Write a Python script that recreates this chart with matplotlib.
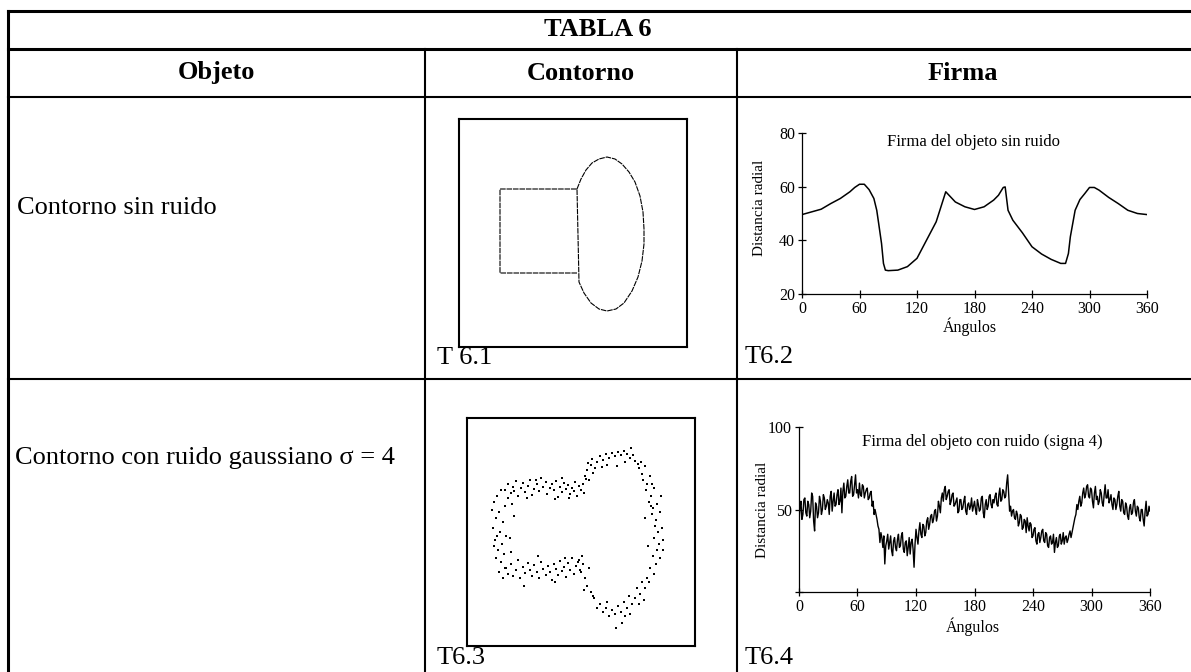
import matplotlib
matplotlib.use("Agg")
import matplotlib.pyplot as plt

W, H = 1191, 672
SERIF = ["Liberation Serif", "DejaVu Serif"]

# ---------------- data ----------------
table_title = "TABLA 6"
col_headers = ["Objeto", "Contorno", "Firma"]
row_labels = ["Contorno sin ruido", "Contorno con ruido gaussiano σ = 4"]
fig_labels = ["T 6.1", "T6.2", "T6.3", "T6.4"]

# clean signature (angle in degrees, radial distance)
angles_clean = [0, 10, 20, 30, 40, 50, 55, 60, 65, 70, 75, 78, 80, 83, 85, 87, 90,
                100, 110, 120, 130, 140, 145, 150, 155, 160, 170, 180, 190, 200,
                205, 210, 212, 215, 220, 230, 240, 250, 260, 270, 275, 278, 280,
                285, 290, 295, 300, 305, 310, 320, 330, 340, 350, 360]
dist_clean = [49.6, 50.6, 51.6, 53.7, 55.6, 58.1, 59.7, 60.9, 60.9, 58.9, 55.6, 51.2,
              46.3, 38.8, 31.4, 28.9, 28.7, 28.9, 30.2, 33.3, 40.1, 46.9, 52.5, 58.1,
              56.2, 54.3, 52.5, 51.5, 52.5, 55.0, 56.8, 59.7, 59.9, 51.2, 47.5, 42.8,
              37.6, 34.9, 32.9, 31.4, 31.4, 35.1, 41.3, 51.2, 55.2, 57.4, 59.7, 59.7,
              58.7, 56.0, 53.7, 51.2, 50.0, 49.6]

# noisy signature, one value per degree (0..360)
angles_noisy = list(range(0, 361))
dist_noisy = [
    42, 51, 55, 44, 47, 56, 57, 48, 46, 55, 53, 45, 49, 60, 58, 43, 37, 54, 52, 45,
    48, 58, 55, 47, 50, 59, 57, 50, 52, 56, 54, 47, 58, 61, 49, 55, 60, 52, 53, 59,
    62, 53, 55, 63, 48, 61, 66, 57, 58, 64, 68, 60, 60, 67, 70, 58, 59, 65, 71, 60,
    62, 57, 66, 59, 58, 65, 64, 57, 60, 62, 63, 56, 57, 60, 61, 52, 55, 47, 50, 47,
    44, 40, 38, 30, 36, 33, 27, 34, 17, 28, 31, 35, 26, 30, 34, 25, 22, 31, 33, 27,
    25, 32, 35, 27, 28, 34, 36, 26, 24, 30, 31, 22, 27, 33, 23, 30, 32, 26, 15, 29,
    38, 33, 29, 37, 42, 35, 33, 41, 40, 34, 36, 43, 45, 38, 41, 46, 47, 42, 44, 49,
    50, 43, 46, 55, 52, 48, 57, 60, 55, 62, 64, 56, 58, 61, 62, 53, 55, 59, 60, 52,
    53, 55, 57, 48, 49, 56, 56, 50, 51, 55, 58, 49, 47, 53, 54, 50, 52, 57, 49, 52,
    55, 50, 47, 56, 53, 49, 50, 57, 58, 48, 45, 53, 56, 50, 52, 58, 59, 53, 51, 56,
    54, 58, 60, 53, 52, 59, 63, 55, 56, 62, 61, 57, 58, 66, 71, 60, 49, 52, 46, 49,
    50, 45, 44, 49, 47, 40, 42, 47, 46, 38, 39, 44, 43, 36, 45, 40, 37, 42, 41, 33,
    34, 38, 39, 31, 29, 35, 36, 30, 33, 37, 38, 31, 30, 36, 35, 28, 27, 33, 34, 29,
    30, 35, 24, 30, 33, 27, 28, 34, 35, 29, 31, 36, 29, 33, 34, 30, 32, 35, 37, 33,
    36, 39, 42, 45, 47, 53, 50, 55, 58, 52, 54, 60, 63, 57, 59, 64, 65, 58, 57, 63,
    62, 55, 51, 60, 64, 56, 58, 53, 55, 62, 60, 54, 52, 59, 65, 57, 57, 62, 54, 56,
    59, 53, 50, 57, 56, 50, 53, 58, 61, 52, 49, 56, 55, 48, 47, 54, 52, 46, 44, 51,
    53, 47, 48, 54, 56, 49, 46, 52, 51, 45, 43, 50, 50, 44, 40, 49, 55, 46, 47, 52,
    49]

# clean contour (box pixel coords, y downward)
contour_x = [118, 41, 41, 118, 120, 125, 132, 140, 148, 157, 165, 173, 179, 183, 185,
             185, 184, 181, 176, 170, 163, 156, 148, 140, 133, 127, 122, 118]
contour_y = [154, 154, 70, 70, 163, 174, 184, 190, 192, 190, 184, 172, 158, 142, 125,
             110, 93, 77, 63, 53, 45, 40, 38, 40, 44, 51, 60, 70]

# noisy contour points (box pixel coords, y downward)
noisy_pts = [
    (38,72),(41,66),(44,75),(46,69),(49,63),(51,78),(54,70),(56,65),(58,74),(61,68),
    (63,62),(65,77),(67,71),(70,66),(72,73),(74,60),(76,69),(79,64),(80,76),(83,70),
    (85,66),(87,72),(89,63),(91,79),(93,69),(95,74),(97,65),(99,71),(101,67),(103,76),
    (105,70),(107,73),(108,64),(110,78),(112,68),(114,72),(116,66),(117,75),(119,61),
    (60,80),(88,81),(102,80),(47,73),(69,62),(95,60),
    (118,58),(120,52),(122,62),(124,47),(126,55),(121,45),(128,50),(125,41),
    (130,44),(133,38),(136,42),(139,36),(142,40),(145,35),(148,38),(151,34),(154,37),
    (157,33),(160,36),(163,40),(166,37),(168,43),(171,46),(150,48),(140,47),(158,44),
    (164,30),(135,49),
    (172,50),(175,56),(178,48),(176,62),(180,66),(183,58),(179,72),(184,78),(187,70),
    (182,84),(186,90),(190,86),(185,96),(189,102),(193,94),(188,108),(191,114),
    (195,110),(187,120),(192,126),(196,122),(190,132),(186,138),(193,140),(189,146),
    (183,150),(187,156),(180,160),(184,88),(178,100),(194,78),(181,128),(196,132),
    (174,44),(185,66),
    (182,164),(178,170),(175,164),(173,176),(170,170),(168,180),(165,186),(162,178),
    (160,190),(157,184),(154,194),(151,188),(148,196),(145,192),(142,198),(139,190),
    (136,194),(133,186),(130,190),(127,180),(172,186),(155,205),(140,184),(163,196),
    (149,210),(177,182),(158,198),
    (120,168),(118,160),(124,174),(114,154),(122,150),(116,146),(112,142),(126,178),
    (117,172),
    (38,150),(41,156),(44,146),(46,158),(49,152),(51,142),(53,160),(56,149),(58,155),
    (61,145),(63,152),(65,158),(67,147),(70,154),(72,160),(74,144),(76,151),(79,157),
    (81,148),(83,154),(85,162),(87,146),(89,151),(91,157),(93,143),(95,153),(97,149),
    (99,159),(101,145),(103,152),(105,140),(107,156),(109,148),(111,144),(113,152),
    (115,138),(57,168),(88,164),(71,138),(98,140),
    (30,78),(34,72),(27,84),(38,88),(32,94),(29,100),(36,104),(26,110),(33,114),
    (39,118),(28,122),(35,126),(31,132),(37,136),(29,140),(34,144),(39,150),(32,154),
    (36,160),(45,86),(43,120),(47,98),(25,92),(41,80),(30,118),(44,134),(27,128),
]
noisy_x = [p[0] for p in noisy_pts]
noisy_y = [p[1] for p in noisy_pts]

# ---------------- figure ----------------
fig = plt.figure(figsize=(W / 100, H / 100), dpi=100)
fig.patch.set_facecolor("white")


def frac(x0, y0, x1, y1):
    return [x0 / W, 1 - y1 / H, (x1 - x0) / W, (y1 - y0) / H]


bg = fig.add_axes([0, 0, 1, 1])
bg.set_xlim(0, W)
bg.set_ylim(H, 0)
bg.axis("off")

L, R, T = 7.5, 1189, 11
Y_TITLE, Y_HEAD, Y_ROW = 49, 97, 379
X_C1, X_C2 = 425, 737
outer = 2.2
inner = 1.5
bg.plot([L, W + 5], [T, T], color="black", lw=outer)
bg.plot([L, L], [T, H + 5], color="black", lw=outer)
bg.plot([L, W + 5], [Y_TITLE, Y_TITLE], color="black", lw=outer)
bg.plot([L, W + 5], [Y_HEAD, Y_HEAD], color="black", lw=inner)
bg.plot([L, W + 5], [Y_ROW, Y_ROW], color="black", lw=inner)
bg.plot([X_C1, X_C1], [Y_TITLE, H + 5], color="black", lw=inner)
bg.plot([X_C2, X_C2], [Y_TITLE, H + 5], color="black", lw=inner)

fs = 19
bg.text((L + R) / 2, 30, table_title, ha="center", va="center", fontsize=fs,
        fontweight="bold", family=SERIF)
for xc, t in zip([(L + X_C1) / 2, (X_C1 + X_C2) / 2, (X_C2 + R) / 2], col_headers):
    bg.text(xc, 73, t, ha="center", va="center", fontsize=fs, fontweight="bold",
            family=SERIF)
bg.text(17, 208, row_labels[0], ha="left", va="center", fontsize=fs, family=SERIF)
bg.text(15, 458, row_labels[1], ha="left", va="center", fontsize=fs, family=SERIF)
bg.text(437, 364, fig_labels[0], ha="left", va="baseline", fontsize=fs, family=SERIF)
bg.text(745, 363, fig_labels[1], ha="left", va="baseline", fontsize=fs, family=SERIF)
bg.text(437, 664, fig_labels[2], ha="left", va="baseline", fontsize=fs, family=SERIF)
bg.text(745, 664, fig_labels[3], ha="left", va="baseline", fontsize=fs, family=SERIF)

# ---------------- contour boxes ----------------
def contour_box(x0, y0):
    ax = fig.add_axes(frac(x0, y0, x0 + 228, y0 + 228))
    ax.set_xlim(0, 228)
    ax.set_ylim(228, 0)
    ax.set_xticks([])
    ax.set_yticks([])
    for s in ax.spines.values():
        s.set_linewidth(1.5)
    return ax


ax1 = contour_box(459, 119)
ax1.plot(contour_x, contour_y, color="black", lw=0.8, ls=(0, (5, 0.8)))
ax3 = contour_box(467, 418)
ax3.scatter(noisy_x, noisy_y, s=1.4, color="black", marker="s", linewidths=0)

# ---------------- signature charts ----------------
def sig_axes(x0, y0, x1, y1):
    ax = fig.add_axes(frac(x0, y0, x1, y1))
    ax.patch.set_alpha(0)
    ax.spines["top"].set_visible(False)
    ax.spines["right"].set_visible(False)
    ax.spines["left"].set_linewidth(0.9)
    ax.spines["bottom"].set_linewidth(0.9)
    ax.set_xlim(0, 360)
    ax.set_xticks([0, 60, 120, 180, 240, 300, 360])
    ax.tick_params(direction="inout", length=6, width=0.9, labelsize=11.5, pad=2)
    return ax


sa = sig_axes(802, 133, 1147, 294)
sa.set_ylim(20, 80)
sa.set_yticks([20, 40, 60, 80])
for lab in sa.get_xticklabels() + sa.get_yticklabels():
    lab.set_family(SERIF)
sa.plot(angles_clean, dist_clean, color="black", lw=1.1)
sa.text(0.496, 0.944, "Firma del objeto sin ruido", transform=sa.transAxes,
        ha="center", va="center", fontsize=12, family=SERIF)
sa.text(-0.122, 0.537, "Distancia radial", transform=sa.transAxes, rotation=90,
        ha="center", va="center", fontsize=11, family=SERIF)
sa.text(0.487, -0.205, "Ángulos", transform=sa.transAxes, ha="center", va="center",
        fontsize=11.5, family=SERIF)

sb = sig_axes(799, 427, 1150, 592)
sb.set_ylim(0, 100)
sb.set_yticks([0, 50, 100])
sb.set_yticklabels(["", "50", "100"])
for lab in sb.get_xticklabels() + sb.get_yticklabels():
    lab.set_family(SERIF)
sb.plot(angles_noisy, dist_noisy, color="black", lw=1.0)
sb.text(0.521, 0.909, "Firma del objeto con ruido (signa 4)", transform=sb.transAxes,
        ha="center", va="center", fontsize=12, family=SERIF)
sb.text(-0.103, 0.497, "Distancia radial", transform=sb.transAxes, rotation=90,
        ha="center", va="center", fontsize=11, family=SERIF)
sb.text(0.496, -0.212, "Ángulos", transform=sb.transAxes, ha="center", va="center",
        fontsize=11.5, family=SERIF)

fig.savefig("out.png", dpi=100, facecolor="white")
